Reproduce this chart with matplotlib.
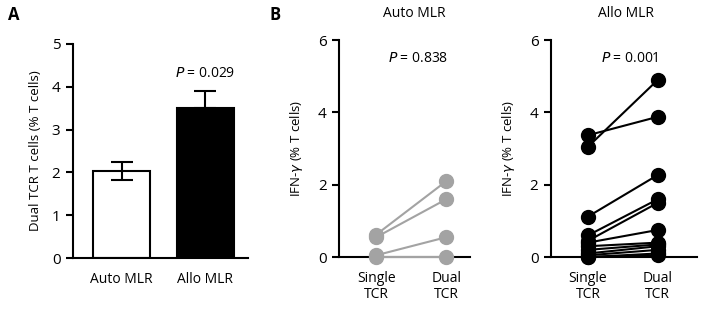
import matplotlib.pyplot as plt
import numpy as np

plt.rcParams['font.family'] = ['Open Sans', 'DejaVu Sans']
plt.rcParams['axes.linewidth'] = 1.5
plt.rcParams['xtick.major.width'] = 1.5
plt.rcParams['ytick.major.width'] = 1.5
plt.rcParams['xtick.major.size'] = 4
plt.rcParams['ytick.major.size'] = 5

# panel A
groups = ["Auto MLR", "Allo MLR"]
dual_pct = [2.03, 3.5]
dual_err = [0.22, 0.4]
bar_colors = ["white", "black"]

# panel B
auto_single = [0.62, 0.55, 0.05, 0.0]
auto_dual = [2.1, 1.6, 0.55, 0.0]

allo_single = [3.05, 3.37, 1.12, 0.6, 0.45, 0.4, 0.3, 0.2, 0.1, 0.05, 0.0, 0.0]
allo_dual = [4.9, 3.88, 2.27, 1.6, 1.5, 0.75, 0.4, 0.35, 0.3, 0.2, 0.1, 0.05]

pair_labels = ["Single\nTCR", "Dual\nTCR"]

fig = plt.figure(figsize=(7.01, 3.09), dpi=100)


def _style(ax):
    ax.spines['top'].set_visible(False)
    ax.spines['right'].set_visible(False)
    ax.tick_params(axis='y', labelsize=11, colors='black', pad=4)
    ax.tick_params(axis='x', labelsize=10, length=0, pad=10)


# ---- A
axA = fig.add_axes([0.104, 0.165, 0.250, 0.693])
x = np.arange(len(groups))
axA.bar(x, dual_pct, 0.68, color=bar_colors, edgecolor='black', linewidth=1.5, zorder=2)
axA.errorbar(x[0], dual_pct[0], yerr=dual_err[0], color='black', capsize=8, capthick=1.5,
             elinewidth=1.5, zorder=3)
axA.errorbar(x[1], dual_pct[1], yerr=[[0], [dual_err[1]]], color='black', capsize=8, capthick=1.5,
             elinewidth=1.5, zorder=1)
axA.set_xlim(-0.58, 1.51)
axA.set_ylim(0, 5)
axA.set_yticks([0, 1, 2, 3, 4, 5])
axA.set_xticks(x, groups)
axA.set_ylabel("Dual TCR T cells (% T cells)", fontsize=9.5, labelpad=7)
axA.text(x[1], 4.3, "$P$ = 0.029", ha='center', va='center', fontsize=10)
_style(axA)

fig.text(0.012, 0.95, "A", fontsize=12, fontweight='bold', va='center')
fig.text(0.385, 0.95, "B", fontsize=12, fontweight='bold', va='center')


def _pairs(ax, single, dual, color, title, ptxt, right):
    for s, d in zip(single, dual):
        ax.plot([0, 1], [s, d], color=color, lw=1.5, marker='o', markersize=10,
                markerfacecolor=color, markeredgecolor=color, clip_on=False, zorder=3)
    ax.set_xlim(-0.53, right)
    ax.set_ylim(0, 6)
    ax.set_yticks([0, 2, 4, 6])
    ax.set_xticks([0, 1], pair_labels)
    ax.set_ylabel("IFN-$\\gamma$ (% T cells)", fontsize=9.5, labelpad=9)
    ax.text(0.55, 6.75, title, ha='center', va='center', fontsize=10)
    ax.text(0.6, 5.5, ptxt, ha='center', va='center', fontsize=10)
    _style(ax)
    for lab in ax.get_xticklabels():
        lab.set_linespacing(1.1)


axB1 = fig.add_axes([0.4836, 0.168, 0.187, 0.702])
_pairs(axB1, auto_single, auto_dual, '#a3a3a3', "Auto MLR", "$P$ = 0.838", 1.34)

axB2 = fig.add_axes([0.786, 0.168, 0.208, 0.702])
_pairs(axB2, allo_single, allo_dual, 'black', "Allo MLR", "$P$ = 0.001", 1.56)

plt.savefig("out.png", dpi=100)
